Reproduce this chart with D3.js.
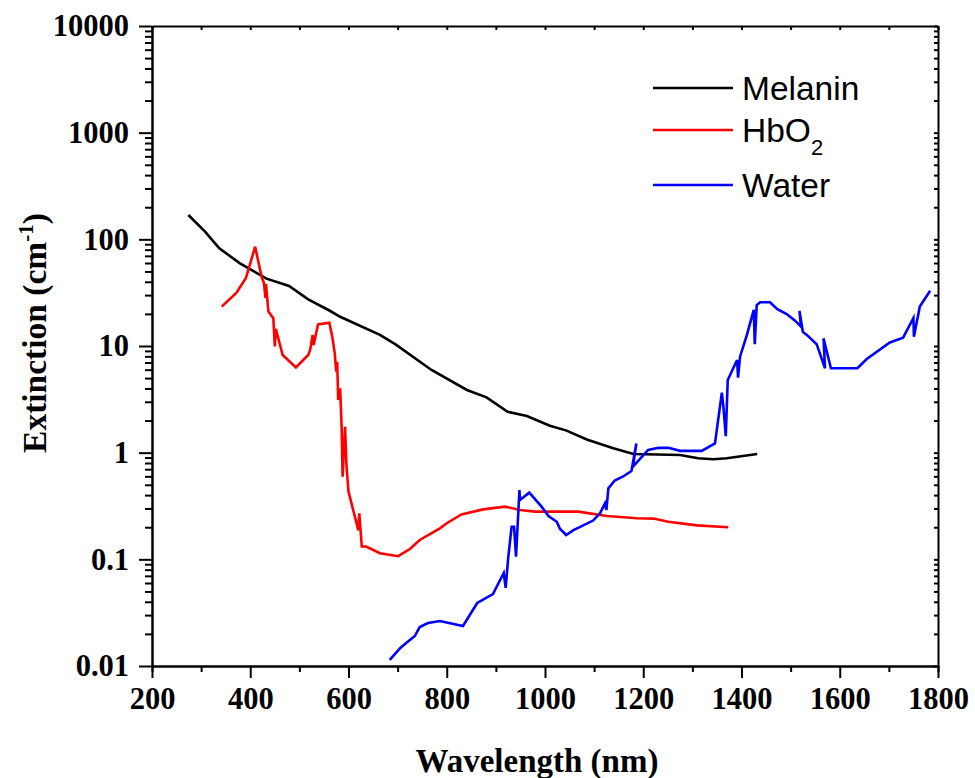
<!DOCTYPE html>
<html>
<head>
<meta charset="utf-8">
<script src="https://cdn.jsdelivr.net/npm/d3@7"></script>
<style>
  html, body { margin: 0; padding: 0; background: #fff; }
  svg { display: block; }
</style>
</head>
<body>
<svg id="chart" width="975" height="778"></svg>
<script>
// Extinction spectra: [wavelength (nm), extinction (cm^-1)]
const melanin = [
  [274, 169], [308, 118], [337, 82.4], [379, 59.6], [433, 42.8], [479, 36.5],
  [518, 27.4], [562, 21.4], [583, 18.8], [664, 12.7], [695, 10.4], [769, 5.96],
  [841, 3.87], [881, 3.30], [924, 2.42], [963, 2.21], [1010, 1.79], [1044, 1.61],
  [1085, 1.33], [1139, 1.10], [1180, 0.97], [1275, 0.95], [1312, 0.885],
  [1343, 0.867], [1370, 0.885], [1432, 0.97]
];

const hbo2 = [
  [342, 23.4], [372, 31.6], [391, 43.1], [410, 85.3], [423, 44.7], [428, 38.7],
  [431, 28.2], [432, 38.0], [437, 21.0], [447, 18.2], [450, 9.9], [452, 14.5],
  [466, 8.24], [493, 6.31], [518, 8.24], [522, 9.17], [527, 12.7], [529, 10.2],
  [538, 15.9], [561, 16.5], [567, 12.2], [572, 8.54], [575, 5.74], [577, 7.13],
  [579, 3.12], [583, 4.01], [586, 1.75], [588, 0.596], [593, 1.75], [596, 0.74],
  [600, 0.431], [620, 0.188], [622, 0.27], [627, 0.132], [636, 0.132],
  [664, 0.114], [701, 0.107], [725, 0.125], [745, 0.152], [786, 0.195],
  [800, 0.218], [830, 0.264], [874, 0.294], [919, 0.312], [949, 0.29],
  [980, 0.28], [1068, 0.28], [1126, 0.255], [1187, 0.243], [1221, 0.241],
  [1251, 0.225], [1309, 0.208], [1373, 0.200]
];

const water = [
  [684, 0.0114], [705, 0.0147], [715, 0.0161], [735, 0.0191], [745, 0.0232],
  [762, 0.0253], [786, 0.0264], [833, 0.0237], [862, 0.039], [894, 0.0473],
  [916, 0.0745], [920, 0.054], [925, 0.102], [932, 0.202], [937, 0.202],
  [941, 0.106], [948, 0.447], [949, 0.36], [968, 0.422], [993, 0.312],
  [1007, 0.255], [1024, 0.225], [1030, 0.195], [1043, 0.169], [1058, 0.188],
  [1098, 0.231], [1112, 0.27], [1122, 0.335], [1125, 0.29], [1129, 0.463],
  [1142, 0.548], [1159, 0.598], [1176, 0.673], [1186, 1.22], [1179, 0.74],
  [1210, 1.06], [1231, 1.11], [1251, 1.11], [1275, 1.04], [1319, 1.04],
  [1346, 1.22], [1360, 3.65], [1363, 2.74], [1368, 1.43], [1372, 4.80],
  [1391, 7.39], [1393, 5.05], [1397, 7.94], [1411, 12.7], [1425, 21.8],
  [1427, 10.4], [1431, 24.2], [1438, 25.7], [1458, 25.7], [1473, 22.1],
  [1492, 19.95], [1509, 17.3], [1521, 15.2], [1518, 21.3], [1525, 13.5],
  [1533, 12.7], [1553, 10.4], [1570, 6.18], [1567, 11.8], [1582, 6.18],
  [1636, 6.18], [1655, 7.55], [1702, 10.8], [1729, 11.97], [1750, 18.3],
  [1751, 12.2], [1763, 23.4], [1784, 33.0]
];

const seriesNames = ["Melanin", "HbO2", "Water"];
const seriesColors = ["#000000", "#ff0000", "#0000ff"];

const xTicks = [200, 400, 600, 800, 1000, 1200, 1400, 1600, 1800];
const xMinor = [300, 500, 700, 900, 1100, 1300, 1500, 1700];
const yTicks = [0.01, 0.1, 1, 10, 100, 1000, 10000];
const yTickLabels = ["0.01", "0.1", "1", "10", "100", "1000", "10000"];

const svg = d3.select("#chart");
const plotL = 152, plotR = 938, plotT = 26, plotB = 666;

const x = d3.scaleLinear().domain([200, 1800]).range([plotL, plotR]);
const y = d3.scaleLog().domain([0.01, 10000]).range([plotB, plotT]);

// minor log ticks (2..9 within each decade)
const yMinor = [];
for (let e = -2; e < 4; e++) {
  for (let m = 2; m <= 9; m++) yMinor.push(m * Math.pow(10, e));
}

const serif = "'Liberation Serif', 'Times New Roman', serif";
const sans = "'Liberation Sans', Arial, sans-serif";

function styleAxis(g) {
  g.selectAll("path.domain").attr("stroke", "#000").attr("stroke-width", 2);
  g.selectAll(".tick line").attr("stroke", "#000").attr("stroke-width", 2);
}

// bottom axis
svg.append("g")
  .attr("transform", `translate(0,${plotB})`)
  .call(d3.axisBottom(x).tickValues(xMinor).tickSize(6).tickFormat(""))
  .call(styleAxis);
const gx = svg.append("g")
  .attr("transform", `translate(0,${plotB})`)
  .call(d3.axisBottom(x).tickValues(xTicks).tickSize(12).tickPadding(9)
    .tickFormat(d3.format("d")).tickSizeOuter(0))
  .call(styleAxis);
gx.selectAll(".tick text")
  .attr("font-family", serif).attr("font-weight", "bold")
  .attr("font-size", 30.5).attr("fill", "#000");

// top axis (ticks inward)
svg.append("g")
  .attr("transform", `translate(0,${plotT})`)
  .call(d3.axisBottom(x).tickValues(xTicks.concat(xMinor)).tickSize(4).tickFormat("").tickSizeOuter(0))
  .call(styleAxis);

// left axis
svg.append("g")
  .attr("transform", `translate(${plotL},0)`)
  .call(d3.axisLeft(y).tickValues(yMinor).tickSize(7).tickFormat("").tickSizeOuter(0))
  .call(styleAxis);
const gy = svg.append("g")
  .attr("transform", `translate(${plotL},0)`)
  .call(d3.axisLeft(y).tickValues(yTicks).tickSize(13).tickPadding(10)
    .tickFormat((d, i) => yTickLabels[i]).tickSizeOuter(0))
  .call(styleAxis);
gy.selectAll(".tick text")
  .attr("font-family", serif).attr("font-weight", "bold")
  .attr("font-size", 30.5).attr("fill", "#000");

// right axis (ticks inward)
svg.append("g")
  .attr("transform", `translate(${plotR},0)`)
  .call(d3.axisLeft(y).tickValues(yMinor.concat(yTicks)).tickSize(4).tickFormat("").tickSizeOuter(0))
  .call(styleAxis);

// series lines
const line = d3.line().x(d => x(d[0])).y(d => y(d[1]));
[melanin, hbo2, water].forEach((data, i) => {
  svg.append("path")
    .datum(data)
    .attr("fill", "none")
    .attr("stroke", seriesColors[i])
    .attr("stroke-width", 2.6)
    .attr("stroke-linejoin", "miter")
    .attr("d", line);
});

// axis titles
svg.append("text")
  .attr("x", 537).attr("y", 772)
  .attr("text-anchor", "middle")
  .attr("font-family", serif).attr("font-weight", "bold").attr("font-size", 33)
  .text("Wavelength (nm)");

const yt = svg.append("text")
  .attr("transform", "translate(46,333) rotate(-90)")
  .attr("text-anchor", "middle")
  .attr("font-family", serif).attr("font-weight", "bold").attr("font-size", 33.5);
yt.append("tspan").text("Extinction (cm");
yt.append("tspan").attr("dy", -13).attr("font-size", 21).text("-1");
yt.append("tspan").attr("dy", 13).text(")");

// legend
const legY = [88, 130, 185];
const legend = svg.append("g");
seriesNames.forEach((name, i) => {
  legend.append("line")
    .attr("x1", 653).attr("x2", 733)
    .attr("y1", legY[i]).attr("y2", legY[i])
    .attr("stroke", seriesColors[i]).attr("stroke-width", 2.6);
  const t = legend.append("text")
    .attr("x", 742).attr("y", legY[i] + 12)
    .attr("font-family", sans).attr("font-size", 33.5).attr("fill", "#000");
  if (name === "HbO2") {
    t.append("tspan").text("HbO");
    t.append("tspan").attr("dy", 13).attr("font-size", 22).text("2");
  } else {
    t.text(name);
  }
});
</script>
</body>
</html>
